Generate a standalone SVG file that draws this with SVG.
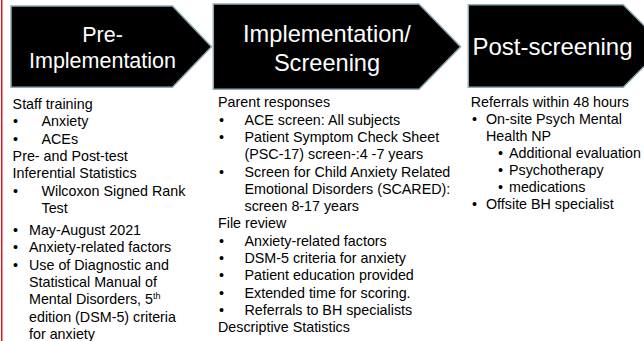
<svg xmlns="http://www.w3.org/2000/svg" width="644" height="341" viewBox="0 0 644 341">
<style>
.shape{fill:#000;stroke:#8fa9b3;stroke-width:1.5}
.h{fill:#fff;font-family:"Liberation Sans",Arial,sans-serif;text-anchor:middle}
.t{fill:#000;font-family:"Liberation Sans",Arial,sans-serif;font-size:14.3px}
</style>
<rect width="644" height="341" fill="#fff"/>
<line x1="1.75" y1="0" x2="1.75" y2="341" stroke="#e8141c" stroke-width="1.5"/>
<g id="pre-implementation">
<polygon class="shape" points="11,6 172.5,6 211.5,46.7 172.5,87.3 11,87.3"/>
<text class="h" font-size="21.5" x="102.5" y="41.7">Pre-</text>
<text class="h" font-size="21.5" x="102.5" y="68.3">Implementation</text>
</g>
<g id="implementation-screening">
<polygon class="shape" points="213.3,4 419,4 460.6,46.7 419,89.3 213.3,89.3"/>
<text class="h" font-size="23.6" x="327" y="41.5">Implementation/</text>
<text class="h" font-size="23.6" x="327" y="70.5">Screening</text>
</g>
<g id="post-screening">
<polygon class="shape" points="468.3,4.7 623.3,4.7 664.5,46 623.3,87.3 468.3,87.3"/>
<text class="h" font-size="24" x="552.5" y="55">Post-screening</text>
</g>
<g id="pre-implementation-details" class="t">
<text x="12.6" y="109">Staff training</text>
<text x="13" y="126.3">•</text><text x="41.5" y="126.3">Anxiety</text>
<text x="13" y="143.6">•</text><text x="41.5" y="143.6">ACEs</text>
<text x="12.6" y="160.9">Pre- and Post-test</text>
<text x="12.6" y="178.2">Inferential Statistics</text>
<text x="13" y="195.5">•</text><text x="41.5" y="195.5">Wilcoxon Signed Rank</text>
<text x="41.5" y="212.8">Test</text>
<text x="13" y="235">•</text><text x="29" y="235">May-August 2021</text>
<text x="13" y="252.3">•</text><text x="29" y="252.3">Anxiety-related factors</text>
<text x="13" y="269.6">•</text><text x="29" y="269.6">Use of Diagnostic and</text>
<text x="29" y="286.9">Statistical Manual of</text>
<text x="29" y="304.2">Mental Disorders, 5<tspan font-size="9" dy="-5.5">th</tspan></text>
<text x="29" y="321.5">edition (DSM-5) criteria</text>
<text x="29" y="338.8">for anxiety</text>
</g>
<g id="implementation-screening-details" class="t">
<text x="218" y="107.3">Parent responses</text>
<text x="219" y="124.6">•</text><text x="244.5" y="124.6">ACE screen: All subjects</text>
<text x="219" y="141.9">•</text><text x="244.5" y="141.9">Patient Symptom Check Sheet</text>
<text x="244.5" y="159.2">(PSC-17) screen-:4 -7 years</text>
<text x="219" y="176.5">•</text><text x="244.5" y="176.5">Screen for Child Anxiety Related</text>
<text x="244.5" y="193.8">Emotional Disorders (SCARED):</text>
<text x="244.5" y="211.1">screen 8-17 years</text>
<text x="218" y="228.4">File review</text>
<text x="219" y="245.7">•</text><text x="244.5" y="245.7">Anxiety-related factors</text>
<text x="219" y="263">•</text><text x="244.5" y="263">DSM-5 criteria for anxiety</text>
<text x="219" y="280.3">•</text><text x="244.5" y="280.3">Patient education provided</text>
<text x="219" y="297.6">•</text><text x="244.5" y="297.6">Extended time for scoring.</text>
<text x="219" y="314.9">•</text><text x="244.5" y="314.9">Referrals to BH specialists</text>
<text x="218" y="332.2">Descriptive Statistics</text>
</g>
<g id="post-screening-details" class="t">
<text x="470.7" y="106.7">Referrals within 48 hours</text>
<text x="472" y="123.8">•</text><text x="486" y="123.8">On-site Psych Mental</text>
<text x="486" y="140.9">Health NP</text>
<text x="498" y="158">•</text><text x="509" y="158">Additional evaluation</text>
<text x="498" y="175.1">•</text><text x="509" y="175.1">Psychotherapy</text>
<text x="498" y="192.2">•</text><text x="509" y="192.2">medications</text>
<text x="472" y="209.3">•</text><text x="486" y="209.3">Offsite BH specialist</text>
</g>
</svg>
